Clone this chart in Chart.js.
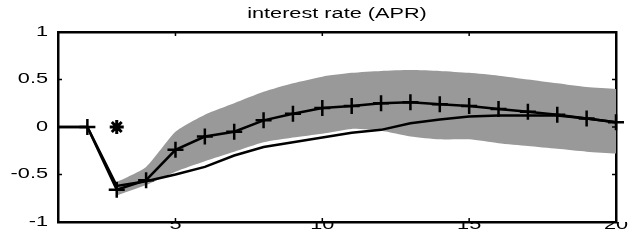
<!DOCTYPE html>
<html>
<head>
<meta charset="utf-8">
<script src="https://cdn.jsdelivr.net/npm/chart.js@4/dist/chart.umd.min.js"></script>
<style>
  body { margin: 0; background: #fff; }
  #wrap { width: 630px; height: 250px; }
</style>
</head>
<body>
<div id="wrap"><canvas id="chart"></canvas></div>
<script>
const steps = [1, 2, 3, 4, 5, 6, 7, 8, 9, 10, 11, 12, 13, 14, 15, 16, 17, 18, 19, 20]
const markedLine = [0, 0, -0.66, -0.56, -0.24, -0.10, -0.05, 0.07, 0.14, 0.20, 0.22, 0.25, 0.26, 0.24, 0.22, 0.19, 0.16, 0.13, 0.09, 0.05]
const plainLine = [0, 0, -0.62, -0.57, -0.50, -0.42, -0.30, -0.21, -0.16, -0.11, -0.06, -0.03, 0.04, 0.08, 0.11, 0.12, 0.12, 0.12, 0.09, 0.05]
const bandUpper = [null, null, -0.58, -0.42, -0.05, 0.13, 0.25, 0.37, 0.46, 0.53, 0.57, 0.59, 0.60, 0.59, 0.57, 0.54, 0.50, 0.46, 0.42, 0.40]
const bandLower = [null, null, -0.72, -0.61, -0.47, -0.36, -0.26, -0.16, -0.11, -0.07, -0.02, -0.04, -0.10, -0.13, -0.13, -0.17, -0.20, -0.23, -0.26, -0.28]
const starX = [3]
const starY = [0]
const xTicks = [5, 10, 15, 20]
const yTicks = [-1, -0.5, 0, 0.5, 1]
const yTickLabels = ['-1', '-0.5', '0', '0.5', '1']
const title = 'interest rate (APR)'

const toPoints = (vals) => steps.map((s, i) => ({ x: s, y: vals[i] }))

const canvas = document.getElementById('chart')
const ctx = canvas.getContext('2d')

// the source figure has horizontally stretched lettering
const plainFill = ctx.fillText.bind(ctx)
ctx.fillText = function (text, x, y, maxWidth) {
  this.save()
  this.translate(x, y)
  this.scale(1.55, 1)
  if (maxWidth === undefined) plainFill(text, 0, 0)
  else plainFill(text, 0, 0, maxWidth)
  this.restore()
}

// small inward ticks on every side, drawn as filled rects
const frameTicks = {
  id: 'frameTicks',
  afterDraw(chart) {
    const c = chart.ctx
    const a = chart.chartArea
    const len = 4
    const w = 1.5
    c.save()
    c.fillStyle = '#000000'
    xTicks.forEach(v => {
      const px = chart.scales.x.getPixelForValue(v)
      c.fillRect(px - w / 2, a.bottom - len, w, len)
      c.fillRect(px - w / 2, a.top, w, len)
    })
    yTicks.forEach(v => {
      const py = chart.scales.y.getPixelForValue(v)
      c.fillRect(a.left, py - w / 2, len, w)
      c.fillRect(a.right - len, py - w / 2, len, w)
    })
    c.restore()
  },
}

const axisFont = { family: 'Liberation Sans', size: 14 }
const frameBorder = { display: true, color: '#000', width: 2.5 }

new Chart(canvas, {
  type: 'line',
  data: {
    datasets: [
      {
        data: toPoints(bandUpper),
        fill: '+1',
        backgroundColor: '#999999',
        borderWidth: 0,
        pointRadius: 0,
        tension: 0.2,
        order: 3,
      },
      {
        data: toPoints(bandLower),
        fill: false,
        borderWidth: 0,
        pointRadius: 0,
        tension: 0.2,
        order: 3,
      },
      {
        data: toPoints(plainLine),
        borderColor: '#000',
        borderWidth: 2.5,
        pointRadius: 0,
        fill: false,
        tension: 0,
        order: 2,
      },
      {
        data: toPoints(markedLine),
        borderColor: '#000',
        borderWidth: 2.5,
        pointStyle: 'cross',
        pointRadius: steps.map(s => (s === 1 ? 0 : 8)),
        pointBorderColor: '#000',
        pointBorderWidth: 2.5,
        fill: false,
        tension: 0,
        clip: false,
        order: 1,
      },
      {
        data: starX.map((x, i) => ({ x: x, y: starY[i] })),
        showLine: false,
        pointStyle: 'star',
        pointRadius: 7,
        pointBorderColor: '#000',
        pointBorderWidth: 3,
        order: 0,
      },
    ],
  },
  options: {
    responsive: true,
    maintainAspectRatio: false,
    animation: false,
    layout: { padding: { left: 0, right: 14, top: 0, bottom: 0 } },
    plugins: {
      legend: { display: false },
      tooltip: { enabled: false },
      title: {
        display: true,
        fullSize: false,
        text: title,
        color: '#000',
        font: { family: 'Liberation Sans', size: 14, weight: 'normal' },
        padding: { top: 6, bottom: 9.2 },
      },
    },
    scales: {
      x: {
        type: 'linear',
        position: 'bottom',
        min: 1,
        max: 20,
        grid: { display: false, drawTicks: false },
        border: frameBorder,
        afterBuildTicks: (axis) => { axis.ticks = xTicks.map(v => ({ value: v })) },
        afterFit: (axis) => { axis.height = 28 },
        ticks: { color: '#000', padding: -5.5, maxRotation: 0, font: axisFont },
      },
      xTop: {
        type: 'linear',
        position: 'top',
        display: true,
        min: 1,
        max: 20,
        grid: { display: false, drawTicks: false },
        border: frameBorder,
        ticks: { display: false },
        afterFit: (axis) => { axis.height = 0 },
      },
      y: {
        type: 'linear',
        position: 'left',
        min: -1,
        max: 1,
        grid: { display: false, drawTicks: false },
        border: frameBorder,
        afterBuildTicks: (axis) => { axis.ticks = yTicks.map(v => ({ value: v })) },
        afterFit: (axis) => { axis.width = 58 },
        ticks: {
          color: '#000',
          padding: 10,
          font: axisFont,
          callback: (value) => yTickLabels[yTicks.indexOf(value)],
        },
      },
      yRight: {
        type: 'linear',
        position: 'right',
        display: true,
        min: -1,
        max: 1,
        grid: { display: false, drawTicks: false },
        border: frameBorder,
        ticks: { display: false },
        afterFit: (axis) => { axis.width = 0 },
      },
    },
  },
  plugins: [frameTicks],
})
</script>
</body>
</html>
